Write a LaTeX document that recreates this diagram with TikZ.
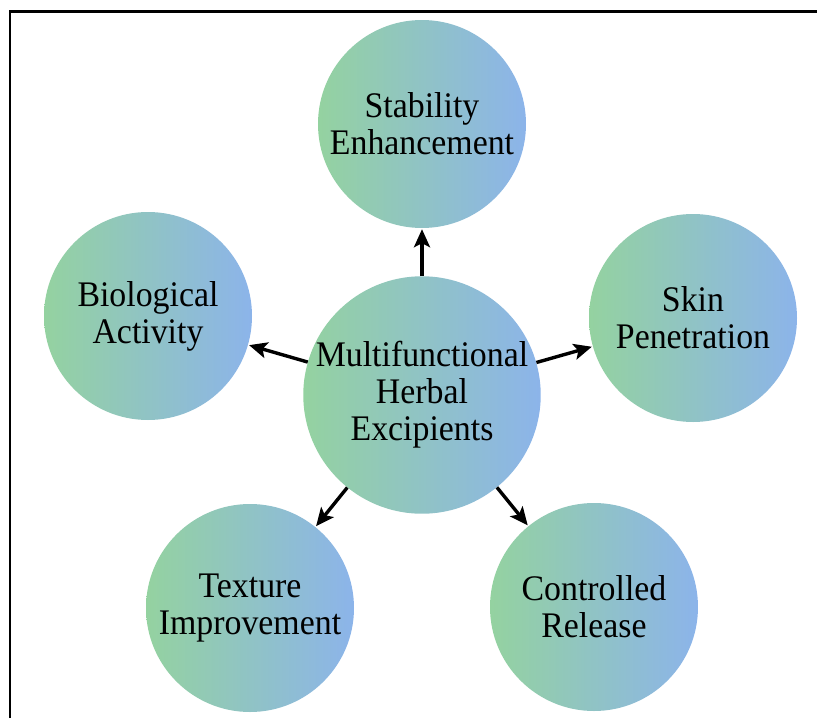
\documentclass[tikz,border=0pt]{standalone}
\usepackage{fontspec}
\setmainfont[FakeStretch=0.94]{Liberation Serif}
\usepackage{tikz}
\usetikzlibrary{arrows.meta}

\definecolor{leafgreen}{RGB}{148,210,160}
\definecolor{skyblue}{RGB}{140,180,234}

\begin{document}
\begin{tikzpicture}[x=1pt,y=-1pt,
	bubble/.style={circle, inner sep=0pt, align=center, left color=leafgreen, right color=skyblue, font=\fontsize{36}{37}\selectfont},
	arr/.style={-{Stealth[length=18pt,width=16pt,inset=4pt]}, line width=3.4pt, shorten >=1pt}]
	\def\R{208pt}
	\def\Rc{234pt}

	\useasboundingbox (0,0) rectangle (817,718);

	% open frame, no right or bottom side
	\draw[line width=2.2pt] (10,718) -- (10,11.5) -- (817,11.5);

	\node[bubble, minimum size=\Rc] (excip) at (422,395) {Multifunctional\\Herbal\\Excipients};

	\node[bubble, minimum size=\R] (stab) at (422,124) {Stability\\Enhancement};
	\node[bubble, minimum size=\R] (bio) at (148,316) {Biological\\Activity};
	\node[bubble, minimum size=\R] (skin) at (693,318) {Skin\\Penetration};
	\node[bubble, minimum size=\R] (tex) at (250,608) {Texture\\Improvement};
	\node[bubble, minimum size=\R] (rel) at (594,607) {Controlled\\Release};

	\draw[arr] (excip) -- (stab);
	\draw[arr] (excip) -- (bio);
	\draw[arr] (excip) -- (skin);
	\draw[arr] (excip) -- (tex);
	\draw[arr] (excip) -- (rel);

\end{tikzpicture}
\end{document}
